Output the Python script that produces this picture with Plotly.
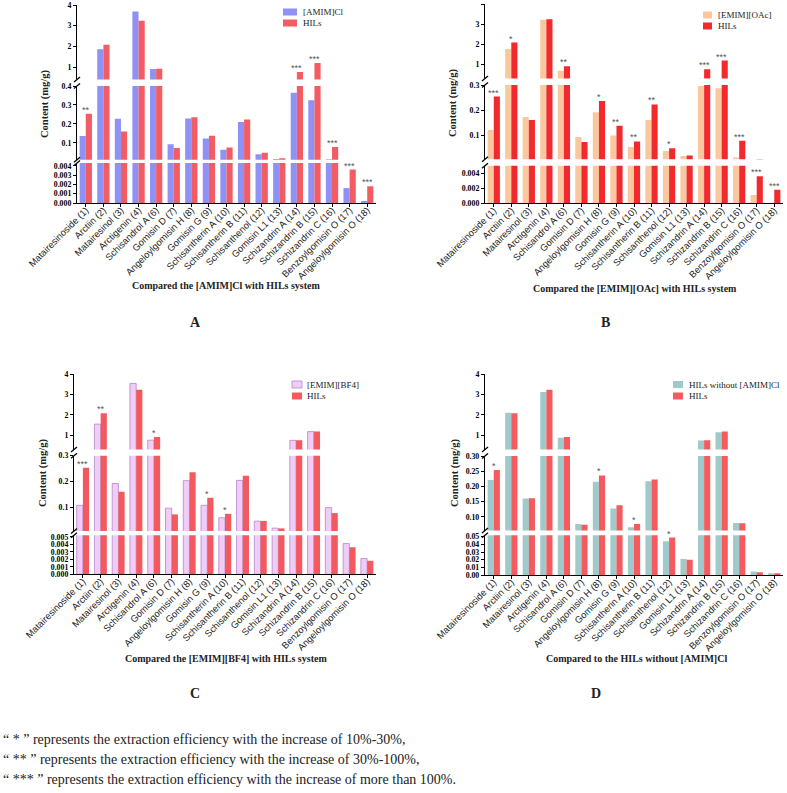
import plotly.graph_objects as go

W, H = 787, 793
SERIF = "Liberation Serif, Times New Roman, serif"
SANS = "Liberation Sans, Arial, sans-serif"

categories = ["Matairesinoside (1)", "Arctiin (2)", "Matairesinol (3)", "Arctigenin (4)",
              "Schisandrol A (6)", "Gomisin D (7)", "Angeloylgomisin H (8)", "Gomisin G (9)",
              "Schisantherin A (10)", "Schisantherin B (11)", "Schisanthenol (12)",
              "Gomisin L1 (13)", "Schizandrin A (14)", "Schizandrin B (15)",
              "Schizandrin C (16)", "Benzoylgomisin O (17)", "Angeloylgomisin O (18)"]

hils = [0.254, 2.08, 0.161, 3.24, 0.91, 0.074, 0.236, 0.138, 0.076, 0.223, 0.049,
        0.020, 0.76, 1.19, 0.079, 0.0036, 0.0018]
amim_cl = [0.137, 1.86, 0.227, 3.68, 0.90, 0.093, 0.229, 0.124, 0.064, 0.211, 0.041,
           0.016, 0.364, 0.325, 0.014, 0.0016, 0.0002]
emim_oac = [0.121, 1.76, 0.173, 3.22, 0.68, 0.094, 0.192, 0.099, 0.054, 0.161, 0.038,
            0.018, 0.296, 0.287, 0.012, 0.0011, 0.0]
emim_bf4 = [0.109, 1.55, 0.193, 3.55, 0.76, 0.098, 0.204, 0.109, 0.061, 0.205, 0.048,
            0.021, 0.75, 1.18, 0.100, 0.0041, 0.0021]
hils_wo_amim = [0.221, 2.11, 0.160, 3.13, 0.88, 0.076, 0.215, 0.127, 0.066, 0.217, 0.044,
                0.021, 0.74, 1.15, 0.080, 0.0045, 0.0019]

stars_a = ["**", "", "", "", "", "", "", "", "", "", "", "", "***", "***", "***", "***", "***"]
stars_b = ["***", "*", "", "", "**", "", "*", "**", "**", "**", "*", "", "***", "***", "***", "***", "***"]
stars_c = ["***", "**", "", "", "*", "", "", "*", "*", "", "", "", "", "", "", "", ""]
stars_d = ["*", "", "", "", "", "", "*", "", "*", "", "*", "", "", "", "", "", ""]

ticks_top = [1, 2, 3, 4]
ticks_mid_a = [0.1, 0.2, 0.3, 0.4]
ticks_mid_bc = [0.1, 0.2, 0.3]
ticks_mid_d = [0.10, 0.15, 0.20, 0.25, 0.30]
ticks_bot_a = [0, 0.001, 0.002, 0.003, 0.004]
ticks_bot_b = [0, 0.002, 0.004]
ticks_bot_c = [0, 0.001, 0.002, 0.003, 0.004, 0.005]
ticks_bot_d = [0, 0.01, 0.02, 0.03, 0.04, 0.05]

footnotes = ["\u201c * \u201d represents the extraction efficiency with the increase of 10%-30%,",
             "\u201c ** \u201d represents the extraction efficiency with the increase of 30%-100%,",
             "\u201c *** \u201d represents the extraction efficiency with the increase of more than 100%."]


def fx(px):
    return px / W


def fy(py):
    return 1 - py / H


panels = [
    dict(n1="[AMIM]Cl", v1=amim_cl, c1="#8F91F5", l1=None, c2="#F25C62", stars=stars_a,
         x=(77, 376),
         segs=[((5, 79.4), (0.4, 4), ticks_top, "{:.0f}"),
               ((86, 159.7), (0.012, 0.4), ticks_mid_a, "{:.1f}"),
               ((163, 203), (0, 0.0043), ticks_bot_a, "{:.3f}")],
         xtitle="Compared the [AMIM]Cl with HILs system", xt=(226, 286), yt=(45, 104),
         label="A", lab=(195, 323), leg=(283, 297, 301, 12, 23)),
    dict(n1="[EMIM][OAc]", v1=emim_oac, c1="#F9C89E", l1=None, c2="#F22A2E", stars=stars_b,
         x=(485, 783),
         segs=[((4, 78.4), (0.3, 4), ticks_top, "{:.0f}"),
               ((85, 159.3), (0.005, 0.3), ticks_mid_bc, "{:.1f}"),
               ((165.8, 203.3), (0, 0.005), ticks_bot_b, "{:.3f}")],
         xtitle="Compared the [EMIM][OAc] with HILs system", xt=(635, 288), yt=(453, 103),
         label="B", lab=(605, 323), leg=(703, 712, 716, 15, 26)),
    dict(n1="[EMIM][BF4]", v1=emim_bf4, c1="#F0CDF6", l1="#B585CC", c2="#F25A60", stars=stars_c,
         x=(74, 376),
         segs=[((374.3, 449.5), (0.3, 4), ticks_top, "{:.0f}"),
               ((455.7, 531), (0.01, 0.3), ticks_mid_bc, "{:.1f}"),
               ((535.3, 574.3), (0, 0.0052), ticks_bot_c, "{:.3f}")],
         xtitle="Compared the [EMIM][BF4] with HILs system", xt=(226, 658), yt=(43, 473),
         label="C", lab=(195, 693), leg=(292, 302, 305, 384.5, 396)),
    dict(n1="HILs without [AMIM]Cl", v1=hils_wo_amim, c1="#A0CACA", l1=None, c2="#F45A5E",
         stars=stars_d, x=(485, 783),
         segs=[((374.3, 449.5), (0.3, 4), ticks_top, "{:.0f}"),
               ((456, 530.5), (0.055, 0.3), ticks_mid_d, "{:.2f}"),
               ((535.2, 575), (0, 0.052), ticks_bot_d, "{:.2f}")],
         xtitle="Compared to the HILs without [AMIM]Cl", xt=(636, 658), yt=(455, 473),
         label="D", lab=(596, 693), leg=(673, 683, 687, 384.5, 396)),
]

fig = go.Figure()
layout = dict(width=W, height=H, margin=dict(l=0, r=0, t=0, b=0, autoexpand=False),
              autosize=False, paper_bgcolor="white", plot_bgcolor="white", showlegend=False,
              barmode="group", bargap=0.3, bargroupgap=0)
shapes = []
annotations = []

for p, pn in enumerate(panels):
    xname = "x" if p == 0 else f"x{p + 1}"
    xkey = "xaxis" if p == 0 else f"xaxis{p + 1}"
    yids = [p * 3 + s + 1 for s in range(3)]
    ynames = ["y" if i == 1 else f"y{i}" for i in yids]
    ykeys = ["yaxis" if i == 1 else f"yaxis{i}" for i in yids]

    layout[xkey] = dict(domain=[fx(pn["x"][0]), fx(pn["x"][1])], type="category",
                        categoryorder="array", categoryarray=categories,
                        range=[-0.5, len(categories) - 0.5], anchor=ynames[2],
                        automargin=False, ticklabelstandoff=-6,
                        showline=True, linecolor="black", linewidth=1.3,
                        ticks="outside", ticklen=3, tickwidth=1.2, tickcolor="black",
                        tickangle=-45, tickfont=dict(family=SANS, size=9.4, color="#222"),
                        showgrid=False, zeroline=False, fixedrange=True)

    for s, (pxr, rng, tv, fmt) in enumerate(pn["segs"]):
        layout[ykeys[s]] = dict(domain=[fy(pxr[1]), fy(pxr[0])], range=list(rng),
                                anchor=xname, automargin=False, showline=True,
                                linecolor="black", linewidth=1.3, ticks="outside",
                                ticklen=3, tickwidth=1.2, tickcolor="black", tickvals=tv,
                                ticktext=[fmt.format(v) for v in tv],
                                tickfont=dict(family=SERIF, size=7.8, color="black",
                                              weight="bold"),
                                showgrid=False, zeroline=False, fixedrange=True)
        fig.add_trace(go.Bar(x=categories, y=pn["v1"], xaxis=xname, yaxis=ynames[s],
                             name=pn["n1"],
                             marker=dict(color=pn["c1"],
                                         line=dict(color=pn["l1"] or pn["c1"],
                                                   width=0.8 if pn["l1"] else 0))))
        fig.add_trace(go.Bar(x=categories, y=hils, xaxis=xname, yaxis=ynames[s],
                             name="HILs", marker=dict(color=pn["c2"], line=dict(width=0))))

    # break marks on the y axis
    ax = pn["x"][0]
    for s in range(2):
        for yy in (pn["segs"][s][0][1], pn["segs"][s + 1][0][0]):
            shapes.append(dict(type="line", xref="paper", yref="paper",
                               x0=fx(ax - 3), y0=fy(yy + 2.5), x1=fx(ax + 3), y1=fy(yy - 2.5),
                               line=dict(color="black", width=1.3)))

    # significance marks
    segs = pn["segs"]
    for i, st in enumerate(pn["stars"]):
        if not st:
            continue
        v = hils[i]
        if v > segs[1][1][1]:
            yref = ynames[0]
        elif v > segs[2][1][1]:
            yref = ynames[1]
        else:
            yref = ynames[2]
        annotations.append(dict(x=categories[i], y=v, xref=xname, yref=yref, text=st,
                                showarrow=False, yanchor="bottom", xanchor="center",
                                yshift=-3, font=dict(family=SANS, size=9, color="#555")))

    # legend
    lx0, lx1, tx, r1, r2 = pn["leg"]
    for yy, col, lc, txt in ((r1, pn["c1"], pn["l1"], pn["n1"]), (r2, pn["c2"], None, "HILs")):
        shapes.append(dict(type="rect", xref="paper", yref="paper",
                           x0=fx(lx0), x1=fx(lx1), y0=fy(yy + 3.5), y1=fy(yy - 3.5),
                           fillcolor=col, line=dict(color=lc or col, width=0.8 if lc else 0)))
        annotations.append(dict(x=fx(tx), y=fy(yy), xref="paper", yref="paper", text=txt,
                                showarrow=False, xanchor="left", yanchor="middle",
                                font=dict(family=SERIF, size=9, color="#222")))

    # titles
    annotations.append(dict(x=fx(pn["xt"][0]), y=fy(pn["xt"][1]), xref="paper", yref="paper",
                            text="<b>" + pn["xtitle"] + "</b>", showarrow=False,
                            xanchor="center", yanchor="middle",
                            font=dict(family=SERIF, size=10, color="#222")))
    annotations.append(dict(x=fx(pn["yt"][0]), y=fy(pn["yt"][1]), xref="paper", yref="paper",
                            text="<b>Content (mg/g)</b>", showarrow=False, textangle=-90,
                            xanchor="center", yanchor="middle",
                            font=dict(family=SERIF, size=10.5, color="#222")))
    annotations.append(dict(x=fx(pn["lab"][0]), y=fy(pn["lab"][1]), xref="paper", yref="paper",
                            text="<b>" + pn["label"] + "</b>", showarrow=False,
                            xanchor="center", yanchor="middle",
                            font=dict(family=SERIF, size=14, color="#222")))

for k, line in enumerate(footnotes):
    annotations.append(dict(x=fx(1), y=fy(739 + 20 * k), xref="paper", yref="paper",
                            text=line, showarrow=False, xanchor="left", yanchor="middle",
                            font=dict(family=SERIF, size=14, color="#222")))

layout["shapes"] = shapes
layout["annotations"] = annotations
fig.update_layout(**layout)
fig.write_html("out.html", config={"displayModeBar": False},
               post_script="document.body.style.margin='0';")
